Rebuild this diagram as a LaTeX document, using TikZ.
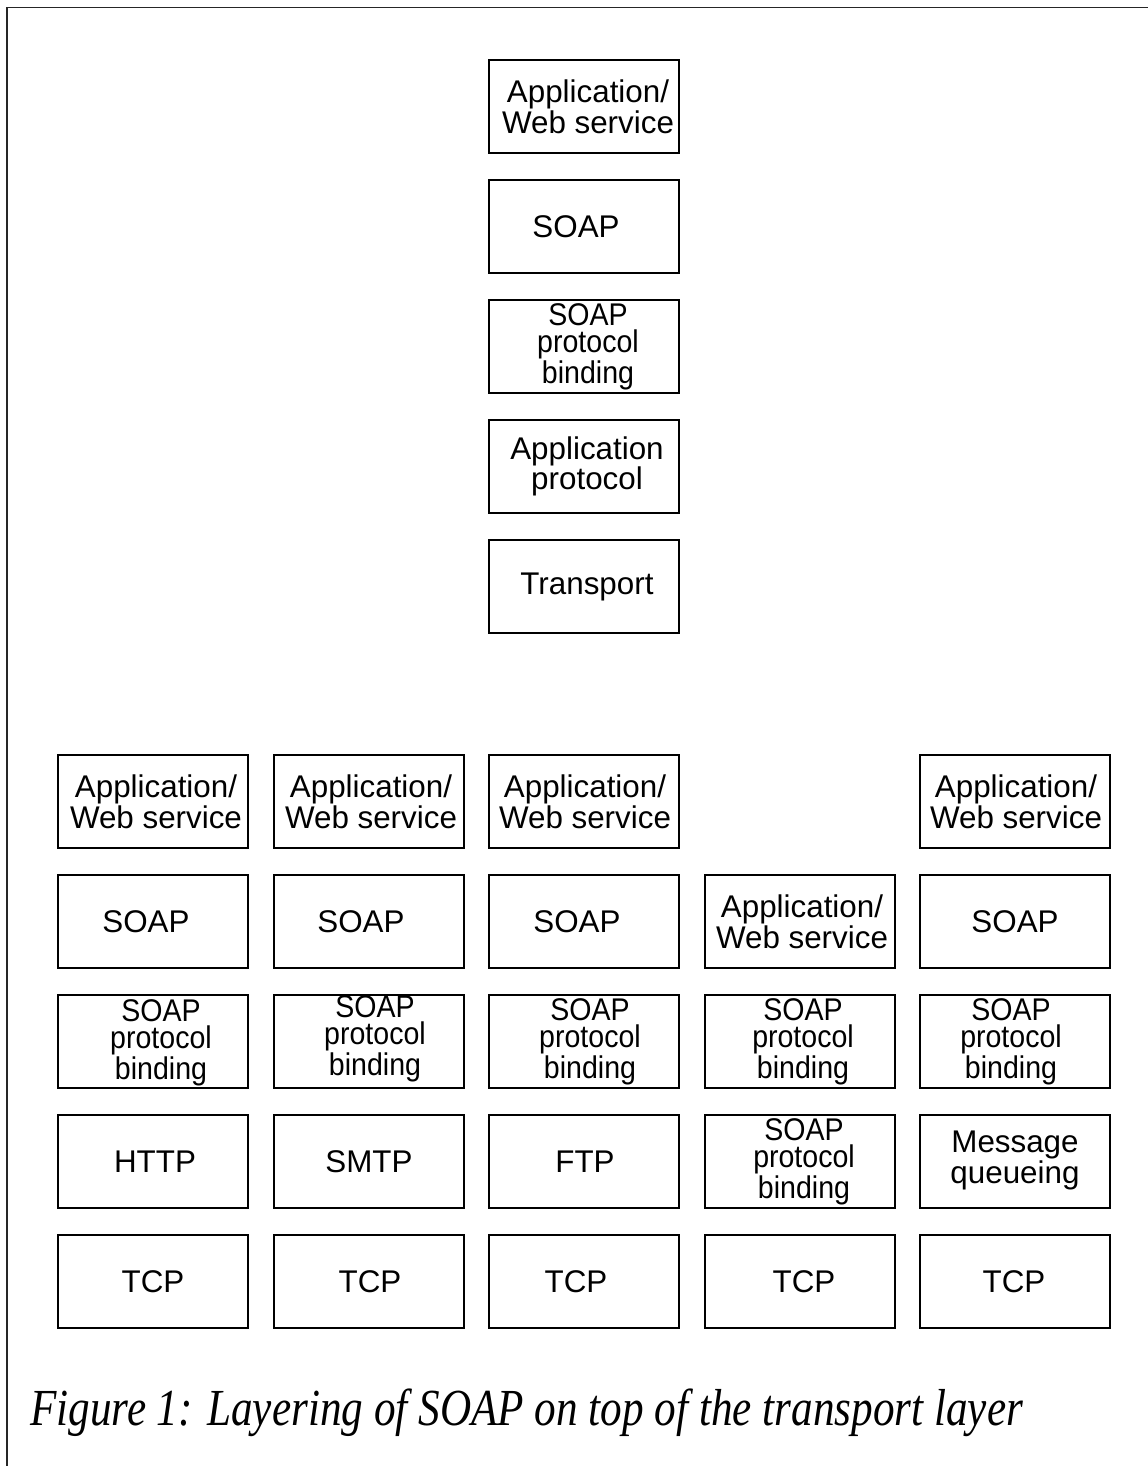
\documentclass[tikz,border=0pt]{standalone}
\usepackage{fontspec}
\setmainfont{Liberation Sans}
\newfontfamily\narrowsans[FakeStretch=0.91]{Liberation Sans}
\newfontfamily\captionserif[FakeStretch=0.83]{Liberation Serif}
% \layerbox{name}{x}{y}{dx}{dy}{text}: a box with its label nudged by (dx,dy)
\newcommand\layerbox[6]{%
  \node[boxshape] (#1) at (#2,#3) {};
  \node[boxtext] (#1-text) at ([shift={(#4,#5)}]#1.center) {#6};}
\newcommand\tallbox[6]{%
  \node[boxshape] (#1) at (#2,#3) {};
  \node[boxtext, tighttext] (#1-text) at ([shift={(#4,#5)}]#1.center) {#6};}
\begin{document}
\begin{tikzpicture}[x=0.025cm,y=-0.025cm,
  boxshape/.style={draw, line width=1.4pt, inner sep=0pt,
    minimum width=4.75cm, minimum height=2.325cm},
  boxtext/.style={inner sep=0pt, align=center,
    font=\fontsize{22.3}{20}\selectfont},
  tighttext/.style={font=\narrowsans\fontsize{22.3}{19.4}\selectfont},
  frameline/.style={line width=1.2pt, draw=black!85}]
\useasboundingbox (0,0) rectangle (1148,1466);
% frame: top and left edges
\coordinate (ftl) at (7,7.5);
\coordinate (ftr) at (1148,7.5);
\coordinate (fbl) at (7,1466);
\draw[frameline] (ftr) -- (ftl) -- (fbl);

% generic stack
\layerbox{t1}{584}{106.5}{4}{0}{Application/\\Web service}
\layerbox{t2}{584}{226.5}{-8}{0}{SOAP}
\tallbox{t3}{584}{346.5}{4}{0}{SOAP\\protocol\\binding}
\layerbox{t4}{584}{466.5}{3}{0}{Application\\protocol}
\layerbox{t5}{584}{586.5}{3}{0}{Transport}

% HTTP stack
\layerbox{a1}{153}{801.5}{3}{0}{Application/\\Web service}
\layerbox{a2}{153}{921.5}{-7}{0}{SOAP}
\tallbox{a3}{153}{1041.5}{8}{1}{SOAP\\protocol\\binding}
\layerbox{a4}{153}{1161.5}{2}{0}{HTTP}
\layerbox{a5}{153}{1281.5}{0}{0}{TCP}

% SMTP stack
\layerbox{b1}{369}{801.5}{2}{0}{Application/\\Web service}
\layerbox{b2}{369}{921.5}{-8}{0}{SOAP}
\tallbox{b3}{369}{1041.5}{6}{-3}{SOAP\\protocol\\binding}
\layerbox{b4}{369}{1161.5}{0}{0}{SMTP}
\layerbox{b5}{369}{1281.5}{1}{0}{TCP}

% FTP stack
\layerbox{c1}{584}{801.5}{1}{0}{Application/\\Web service}
\layerbox{c2}{584}{921.5}{-7}{0}{SOAP}
\tallbox{c3}{584}{1041.5}{6}{0}{SOAP\\protocol\\binding}
\layerbox{c4}{584}{1161.5}{1}{0}{FTP}
\layerbox{c5}{584}{1281.5}{-8}{0}{TCP}

% direct binding stack
\layerbox{d2}{800}{921.5}{2}{0}{Application/\\Web service}
\tallbox{d3}{800}{1041.5}{3}{0}{SOAP\\protocol\\binding}
\tallbox{d4}{800}{1161.5}{4}{0}{SOAP\\protocol\\binding}
\layerbox{d5}{800}{1281.5}{4}{0}{TCP}

% message queueing stack
\layerbox{e1}{1015}{801.5}{1}{0}{Application/\\Web service}
\layerbox{e2}{1015}{921.5}{0}{0}{SOAP}
\tallbox{e3}{1015}{1041.5}{-4}{0}{SOAP\\protocol\\binding}
\layerbox{e4}{1015}{1161.5}{0}{-1}{Message\\queueing}
\layerbox{e5}{1015}{1281.5}{-1}{0}{TCP}

% caption
\node[anchor=base west, inner sep=0pt, font=\captionserif\itshape\fontsize{37}{40}\selectfont]
  (cap) at (30,1425) {Figure 1: Layering of SOAP on top of the transport layer};
\end{tikzpicture}
\end{document}
